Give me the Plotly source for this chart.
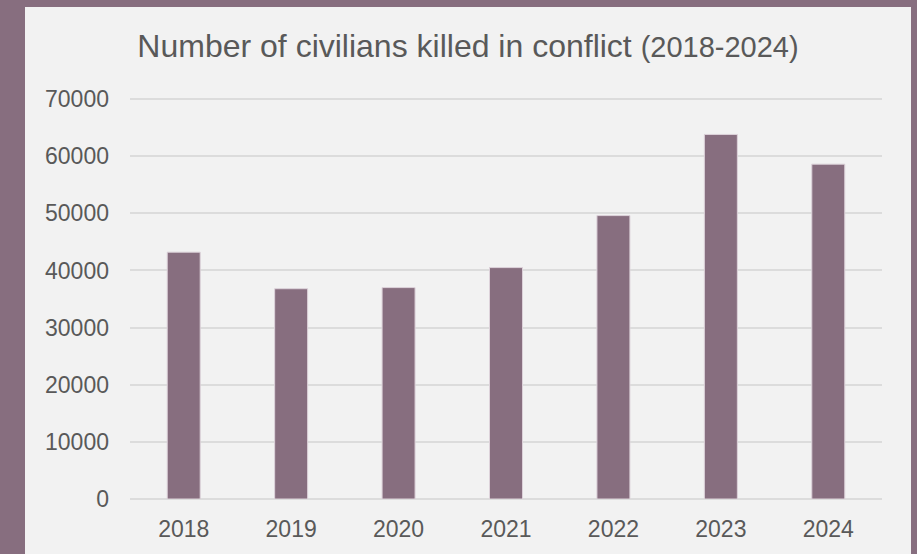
import plotly.graph_objects as go

# Civilian deaths in conflict per year
years = ["2018", "2019", "2020", "2021", "2022", "2023", "2024"]
civilians_killed = [43200, 36800, 37000, 40500, 49600, 63800, 58600]
y_ticks = [0, 10000, 20000, 30000, 40000, 50000, 60000, 70000]
y_tick_labels = [str(v) for v in y_ticks]

FRAME = "#876e7f"
PANEL = "#f2f2f2"
TEXT = "#595959"
GRID = "#dcdcdc"

W, H = 917, 554
L, R, T, B = 130, 35, 98, 55
pw, ph = W - L - R, H - T - B

fig = go.Figure(
    go.Bar(
        x=years,
        y=civilians_killed,
        marker=dict(color=FRAME, line=dict(color="#ddd2da", width=1)),
        hoverinfo="x+y",
    )
)

# light panel inside the coloured frame
fig.add_shape(
    type="rect",
    xref="paper", yref="paper",
    x0=(25 - L) / pw, x1=(911 - L) / pw,
    y0=(T + ph - 560) / ph, y1=(T + ph - 7) / ph,
    fillcolor=PANEL, line_width=0, layer="below",
)

fig.update_layout(
    width=W, height=H,
    margin=dict(l=L, r=R, t=T, b=B),
    paper_bgcolor=FRAME,
    plot_bgcolor=PANEL,
    bargap=0.693,
    showlegend=False,
    font=dict(family="Liberation Sans, Arial, sans-serif", color=TEXT, size=23),
    title=dict(
        text="Number of civilians killed in conflict <span style='font-size:29px'>(2018-2024)</span>",
        font=dict(size=32, color=TEXT),
        x=468 / W, xanchor="center", xref="container",
        y=1 - 46 / H, yanchor="middle", yref="container",
    ),
    xaxis=dict(
        showgrid=False, showline=False, ticks="", zeroline=False,
        ticklabelstandoff=14,
    ),
    yaxis=dict(
        range=[0, 70180], tickvals=y_ticks, ticktext=y_tick_labels,
        showgrid=True, gridcolor=GRID, gridwidth=2,
        zeroline=True, zerolinecolor=GRID, zerolinewidth=2,
        showline=False, ticks="", ticklabelstandoff=20,
    ),
)

fig.write_html("out.html")
